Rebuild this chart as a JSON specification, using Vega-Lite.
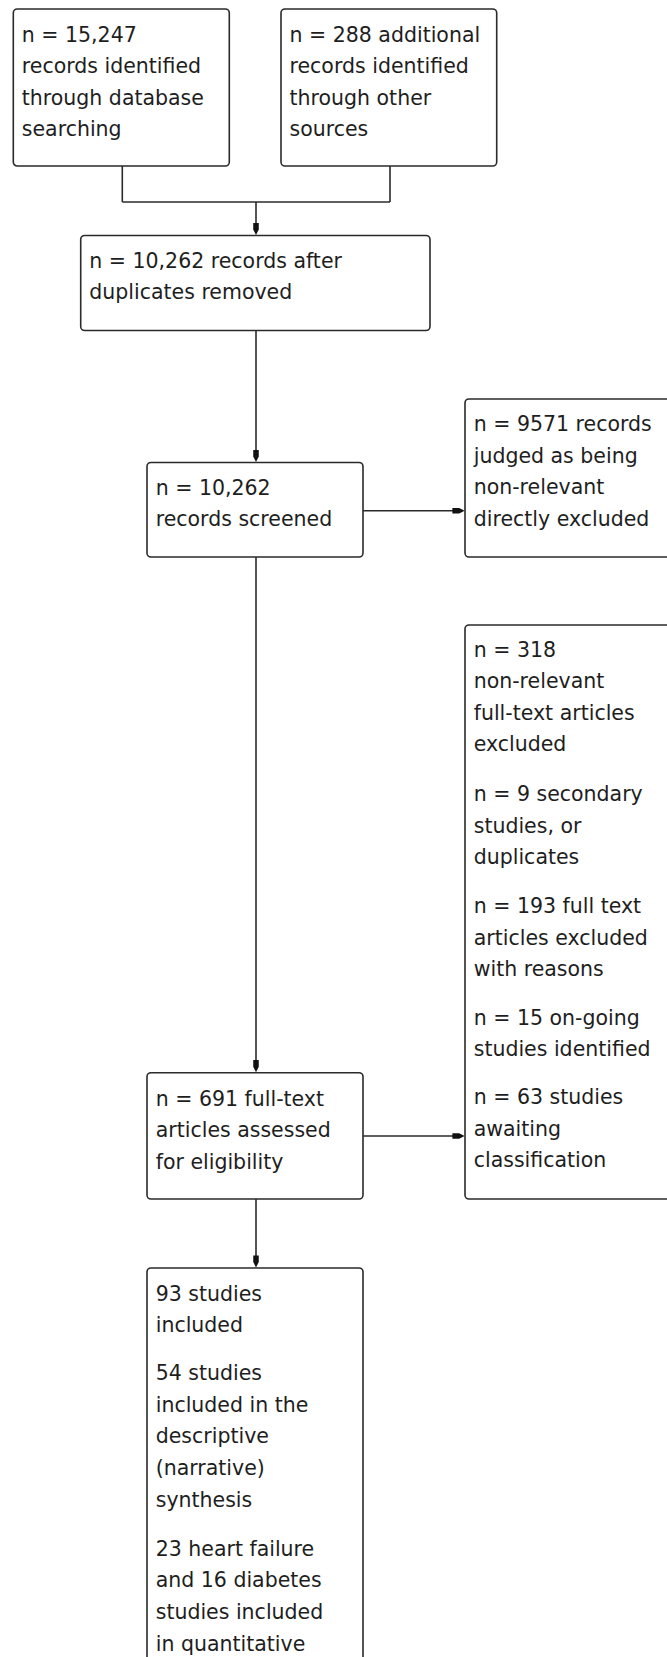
{
  "$schema": "https://vega.github.io/schema/vega-lite/v6.json",
  "width": 667,
  "height": 1657,
  "autosize": {"type": "fit", "contains": "padding"},
  "padding": 0,
  "background": "white",
  "config": {"view": {"stroke": null}},
  "datasets": {
    "boxes": [
      {"id": "A", "x": 13.3, "x2": 229.3, "y": 9, "y2": 166},
      {"id": "B", "x": 281, "x2": 496.7, "y": 9, "y2": 166},
      {"id": "C", "x": 80.7, "x2": 430, "y": 235.5, "y2": 330.5},
      {"id": "D", "x": 147, "x2": 363, "y": 462.5, "y2": 557},
      {"id": "E", "x": 465, "x2": 690, "y": 399, "y2": 557},
      {"id": "F", "x": 465, "x2": 690, "y": 625, "y2": 1199},
      {"id": "G", "x": 147, "x2": 363, "y": 1072.7, "y2": 1199},
      {"id": "H", "x": 147, "x2": 363, "y": 1268, "y2": 1720}
    ],
    "links": [
      {"x": 122.3, "y": 166, "x2": 122.3, "y2": 202},
      {"x": 390, "y": 166, "x2": 390, "y2": 202},
      {"x": 122.3, "y": 202, "x2": 390, "y2": 202},
      {"x": 256, "y": 202, "x2": 256, "y2": 232},
      {"x": 256, "y": 330.5, "x2": 256, "y2": 459},
      {"x": 363, "y": 510.7, "x2": 461, "y2": 510.7},
      {"x": 256, "y": 557, "x2": 256, "y2": 1069},
      {"x": 363, "y": 1136, "x2": 461, "y2": 1136},
      {"x": 256, "y": 1199, "x2": 256, "y2": 1264}
    ],
    "heads": [
      {"dir": "down", "x": 256, "y": 229},
      {"dir": "down", "x": 256, "y": 456},
      {"dir": "right", "x": 458.5, "y": 510.7},
      {"dir": "down", "x": 256, "y": 1066.2},
      {"dir": "right", "x": 458.5, "y": 1136},
      {"dir": "down", "x": 256, "y": 1261.5}
    ],
    "labels": [
      {"box": "A", "x": 21.8, "y": 41.5, "label": "n = 15,247\nrecords identified\nthrough database\nsearching"},
      {"box": "B", "x": 289.5, "y": 41.5, "label": "n = 288 additional\nrecords identified\nthrough other\nsources"},
      {"box": "C", "x": 89.3, "y": 267.5, "label": "n = 10,262 records after\nduplicates removed"},
      {"box": "D", "x": 155.7, "y": 494.8, "label": "n = 10,262\nrecords screened"},
      {"box": "E", "x": 473.7, "y": 431, "label": "n = 9571 records\njudged as being\nnon-relevant\ndirectly excluded"},
      {"box": "F", "x": 473.7, "y": 656.5, "label": "n = 318\nnon-relevant\nfull-text articles\nexcluded"},
      {"box": "F", "x": 473.7, "y": 801, "label": "n = 9 secondary\nstudies, or\nduplicates"},
      {"box": "F", "x": 473.7, "y": 913, "label": "n = 193 full text\narticles excluded\nwith reasons"},
      {"box": "F", "x": 473.7, "y": 1024.7, "label": "n = 15 on-going\nstudies identified"},
      {"box": "F", "x": 473.7, "y": 1104.3, "label": "n = 63 studies\nawaiting\nclassification"},
      {"box": "G", "x": 155.7, "y": 1105.7, "label": "n = 691 full-text\narticles assessed\nfor eligibility"},
      {"box": "H", "x": 155.7, "y": 1300.8, "label": "93 studies\nincluded"},
      {"box": "H", "x": 155.7, "y": 1380.2, "label": "54 studies\nincluded in the\ndescriptive\n(narrative)\nsynthesis"},
      {"box": "H", "x": 155.7, "y": 1555.8, "label": "23 heart failure\nand 16 diabetes\nstudies included\nin quantitative"}
    ]
  },
  "layer": [
    {
      "data": {"name": "boxes"},
      "mark": {"type": "rect", "fill": "white", "stroke": "#2a2a2a", "strokeWidth": 1.6, "cornerRadius": 4, "clip": true},
      "encoding": {
        "x": {"field": "x", "type": "quantitative", "scale": {"domain": [0, 667], "nice": false, "zero": false}, "axis": null},
        "x2": {"field": "x2"},
        "y": {"field": "y", "type": "quantitative", "scale": {"domain": [0, 1657], "nice": false, "zero": false, "reverse": true}, "axis": null},
        "y2": {"field": "y2"}
      }
    },
    {
      "data": {"name": "links"},
      "mark": {"type": "rule", "color": "#2a2a2a", "strokeWidth": 1.6},
      "encoding": {
        "x": {"field": "x", "type": "quantitative", "scale": {"domain": [0, 667], "nice": false, "zero": false}, "axis": null},
        "x2": {"field": "x2"},
        "y": {"field": "y", "type": "quantitative", "scale": {"domain": [0, 1657], "nice": false, "zero": false, "reverse": true}, "axis": null},
        "y2": {"field": "y2"}
      }
    },
    {
      "data": {"name": "heads"},
      "transform": [{"filter": "datum.dir == 'down'"}],
      "mark": {"type": "point", "shape": "M-0.45,-1L0.45,-1L0.45,0.1L0,1L-0.45,0.1Z", "filled": true, "size": 150, "color": "#111111", "opacity": 1},
      "encoding": {
        "x": {"field": "x", "type": "quantitative", "scale": {"domain": [0, 667], "nice": false, "zero": false}, "axis": null},
        "y": {"field": "y", "type": "quantitative", "scale": {"domain": [0, 1657], "nice": false, "zero": false, "reverse": true}, "axis": null}
      }
    },
    {
      "data": {"name": "heads"},
      "transform": [{"filter": "datum.dir == 'right'"}],
      "mark": {"type": "point", "shape": "M-1,-0.45L-1,0.45L0.1,0.45L1,0L0.1,-0.45Z", "filled": true, "size": 150, "color": "#111111", "opacity": 1},
      "encoding": {
        "x": {"field": "x", "type": "quantitative", "scale": {"domain": [0, 667], "nice": false, "zero": false}, "axis": null},
        "y": {"field": "y", "type": "quantitative", "scale": {"domain": [0, 1657], "nice": false, "zero": false, "reverse": true}, "axis": null}
      }
    },
    {
      "data": {"name": "labels"},
      "mark": {"type": "text", "align": "left", "baseline": "alphabetic", "font": "DejaVu Sans", "fontSize": 20.5, "lineHeight": 31.6, "lineBreak": "\n", "color": "#1e1e1e", "clip": true},
      "encoding": {
        "x": {"field": "x", "type": "quantitative", "scale": {"domain": [0, 667], "nice": false, "zero": false}, "axis": null},
        "y": {"field": "y", "type": "quantitative", "scale": {"domain": [0, 1657], "nice": false, "zero": false, "reverse": true}, "axis": null},
        "text": {"field": "label", "type": "nominal"}
      }
    }
  ]
}
